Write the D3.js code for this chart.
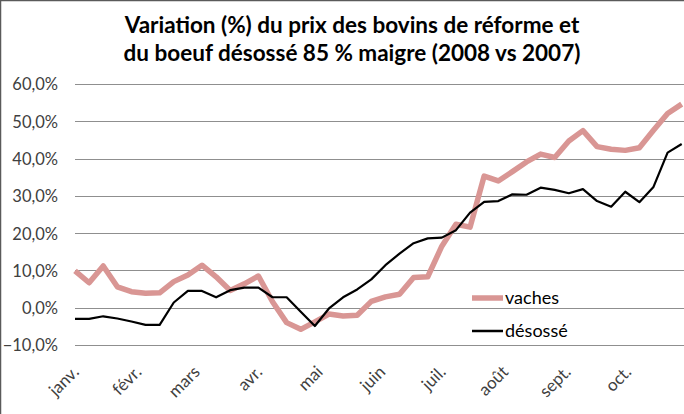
<!DOCTYPE html>
<html>
<head>
<meta charset="utf-8">
<script src="https://cdn.jsdelivr.net/npm/d3@7"></script>
<style>
	body { margin: 0; background: #fff; }
	svg { display: block; font-family: Lato, "Open Sans", sans-serif; }
</style>
</head>
<body>
<div id="chart"></div>
<script>

// weekly observations (2008)
var weeks = [
	"2008-01-01", "2008-01-08", "2008-01-15", "2008-01-22", "2008-01-29",
	"2008-02-05", "2008-02-12", "2008-02-19", "2008-02-26",
	"2008-03-04", "2008-03-11", "2008-03-18", "2008-03-25",
	"2008-04-01", "2008-04-08", "2008-04-15", "2008-04-22", "2008-04-29",
	"2008-05-06", "2008-05-13", "2008-05-20", "2008-05-27",
	"2008-06-03", "2008-06-10", "2008-06-17", "2008-06-24",
	"2008-07-01", "2008-07-08", "2008-07-15", "2008-07-22", "2008-07-29",
	"2008-08-05", "2008-08-12", "2008-08-19", "2008-08-26",
	"2008-09-02", "2008-09-09", "2008-09-16", "2008-09-23", "2008-09-30",
	"2008-10-07", "2008-10-14", "2008-10-21", "2008-10-28"
];

var vaches = [
	9.9, 6.7, 11.2, 5.6, 4.3, 3.9, 4.0, 7.0, 8.8, 11.4, 8.3, 4.6, 6.4, 8.5,
	1.6, -4.0, -5.8, -3.8, -1.7, -2.2, -2.0, 1.7, 2.9, 3.6, 8.1, 8.3, 16.5, 22.4,
	21.6, 35.3, 34.0, 36.5, 39.1, 41.2, 40.3, 44.7, 47.5, 43.2, 42.5, 42.2, 42.9,
	47.6, 52.1, 54.6
];

var desosse = [
	-3.0, -3.0, -2.3, -2.9, -3.7, -4.6, -4.6, 1.4, 4.5, 4.5, 2.8, 4.7, 5.4, 5.4,
	2.8, 2.8, -1.1, -4.9, -0.2, 2.8, 4.9, 7.6, 11.4, 14.5, 17.3, 18.6, 18.8, 20.8,
	25.5, 28.4, 28.6, 30.4, 30.3, 32.2, 31.6, 30.7, 31.8, 28.6, 27.1, 31.1, 28.3,
	32.4, 41.6, 43.9
];

var monthStarts = [
	"2008-01-01", "2008-02-01", "2008-03-01", "2008-04-01", "2008-05-01",
	"2008-06-01", "2008-07-01", "2008-08-01", "2008-09-01", "2008-10-01"
];
var monthLabels = ["janv.", "févr.", "mars", "avr.", "mai", "juin", "juil.", "août", "sept.", "oct."];

var yTicks = [-10, 0, 10, 20, 30, 40, 50, 60];

var seriesNames = ["vaches", "désossé"];

var width = 684, height = 414;
var parse = d3.timeParse("%Y-%m-%d");
var fmt = d3.format(".1f");

var svg = d3.select("#chart").append("svg")
	.attr("width", width)
	.attr("height", height);

// chart border (only top / left visible in the crop)
svg.append("rect")
	.attr("x", 0.5)
	.attr("y", 0.5)
	.attr("width", width + 20)
	.attr("height", height + 20)
	.attr("fill", "none")
	.attr("stroke", "#5a5a5a")
	.attr("stroke-width", 1.5);

var x = d3.scaleTime()
	.domain([parse(weeks[0]), parse(weeks[weeks.length - 1])])
	.range([75, 681.7]);

var y = d3.scaleLinear()
	.domain([-10, 60])
	.range([345, 84]);

// title
var title = svg.append("text")
	.attr("text-anchor", "middle")
	.attr("font-weight", "bold")
	.attr("font-size", "22.5px")
	.attr("fill", "#000");
title.append("tspan").attr("x", 352).attr("y", 33).text("Variation (%) du prix des bovins de réforme et");
title.append("tspan").attr("x", 352).attr("y", 61).text("du boeuf désossé 85 % maigre (2008 vs 2007)");

// horizontal gridlines
var grid = svg.append("g");
grid.selectAll("line")
	.data(yTicks)
	.enter().append("line")
	.attr("x1", 75)
	.attr("x2", width)
	.attr("y1", function(d) { return Math.round(y(d)) + 0.5; })
	.attr("y2", function(d) { return Math.round(y(d)) + 0.5; })
	.attr("stroke", "#8f8f8f")
	.attr("stroke-width", 1);

// y axis labels
var yAxis = d3.axisLeft(y)
	.tickValues(yTicks)
	.tickSize(0)
	.tickPadding(0)
	.tickFormat(function(d) { return fmt(d).replace(".", ",") + "%"; });

var yG = svg.append("g")
	.attr("transform", "translate(58,0)")
	.call(yAxis);
yG.select(".domain").remove();
yG.selectAll("text")
	.attr("font-family", "Lato, sans-serif")
	.attr("font-size", "16.5px")
	.attr("fill", "#404040")
	.attr("dy", "0.36em");

// month labels, rotated
svg.append("g").selectAll("text")
	.data(monthStarts)
	.enter().append("text")
	.attr("transform", function(d) {
		return "translate(" + (x(parse(d)) + 5) + ",373) rotate(-45)";
	})
	.attr("text-anchor", "end")
	.attr("font-size", "17px")
	.attr("fill", "#404040")
	.text(function(d, i) { return monthLabels[i]; });

// lines
var line = d3.line()
	.x(function(d) { return x(d.date); })
	.y(function(d) { return y(d.value); });

function toPoints(values) {
	return values.map(function(v, i) { return { date: parse(weeks[i]), value: v }; });
}

svg.append("path")
	.datum(toPoints(vaches))
	.attr("d", line)
	.attr("fill", "none")
	.attr("stroke", "#d99694")
	.attr("stroke-width", 5.5)
	.attr("stroke-linejoin", "round");

svg.append("path")
	.datum(toPoints(desosse))
	.attr("d", line)
	.attr("fill", "none")
	.attr("stroke", "#000")
	.attr("stroke-width", 2.2)
	.attr("stroke-linejoin", "round");

// legend
var legend = svg.append("g");
var legendStyle = [
	{ colour: "#d99694", width: 5.5, y: 298 },
	{ colour: "#000", width: 2.5, y: 331 }
];
legendStyle.forEach(function(s, i) {
	legend.append("line")
		.attr("x1", 472)
		.attr("x2", 503)
		.attr("y1", s.y)
		.attr("y2", s.y)
		.attr("stroke", s.colour)
		.attr("stroke-width", s.width);
	legend.append("text")
		.attr("x", 505)
		.attr("y", s.y)
		.attr("dy", "0.35em")
		.attr("font-size", "18px")
		.attr("fill", "#000")
		.text(seriesNames[i]);
});

</script>
</body>
</html>
